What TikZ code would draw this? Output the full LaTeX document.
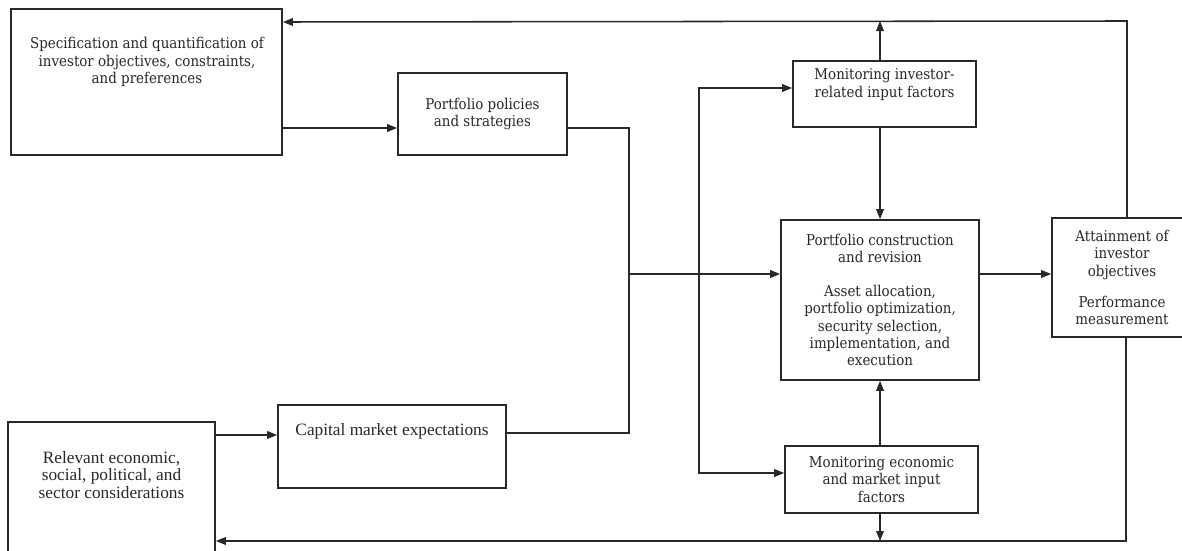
\documentclass[tikz,border=0pt]{standalone}
\usepackage{fontspec}
\setmainfont{DejaVu Serif Condensed}
\newfontfamily\timesfont{Liberation Serif}
\usepackage{xcolor}
\definecolor{inkgray}{RGB}{40,40,40}
\usetikzlibrary{arrows.meta, positioning, calc}

\begin{document}
\begin{tikzpicture}[
    x=0.025cm, y=-0.025cm,
    every node/.style={font=\fontsize{10.6}{12.2}\selectfont, text=inkgray},
    box/.style={rectangle, draw=inkgray, line width=1.1pt, fill=white,
                inner sep=0pt, align=center},
    txt/.style={align=center, inner sep=0pt},
    tms/.style={txt, font=\timesfont\fontsize{12.3}{12.3}\selectfont},
    line/.style={draw=inkgray, line width=1.1pt},
    arr/.style={line, -{Triangle[length=2.5mm, width=1.9mm]}},
]

\clip (0,0) rectangle (1182,551);

% ---- Left column ----
\node[box, minimum width=6.775cm, minimum height=3.65cm] (spec) at (146.5,82) {};
\node[txt] (specT) at (147,62)
      {Specification and quantification of\\investor objectives, constraints,\\and preferences};

\node[box, minimum width=5.175cm, minimum height=3.45cm] (rel) at (111.5,491) {};
\node[tms] (relT) at (111.5,475)
      {Relevant economic,\\social, political, and\\sector considerations};

% ---- Second column ----
\node[box, minimum width=4.225cm, minimum height=2.05cm] (pol) at (482.5,114)
      {Portfolio policies\\and strategies};

\node[box, minimum width=5.7cm, minimum height=2.075cm] (cap) at (392,446.5) {};
\node[tms] (capT) at (392,431) {Capital market expectations};

% ---- Monitoring and construction ----
\node[box, minimum width=4.575cm, minimum height=1.65cm] (monI) at (884.5,94) {};
\node[txt] (monIT) at (884.5,84.5) {Monitoring investor-\\related input factors};

\node[box, minimum width=4.95cm, minimum height=4cm] (cons) at (880,300)
      {Portfolio construction\\and revision\\[12pt]Asset allocation,\\portfolio optimization,\\security selection,\\implementation, and\\execution};

\node[box, minimum width=4.825cm, minimum height=1.675cm] (monE) at (881.5,479.5)
      {Monitoring economic\\and market input\\factors};

% ---- Attainment ----
\node[box, minimum width=3.5cm, minimum height=2.975cm] (att) at (1122,277.5)
      {Attainment of\\investor\\objectives\\[10pt]Performance\\measurement};

% ---- Feed-forward connectors ----
\coordinate (jn)  at (629,274);
\coordinate (bus) at (699,274);
\coordinate (topR) at (1127,21);
\coordinate (botR) at (1126,541);

\draw[arr] (spec.east |- 0,128) -- (pol.west |- 0,128);
\draw[arr] (rel.east |- 0,435) -- (cap.west |- 0,435);
\draw[line] (pol.east |- 0,128) -| (jn);
\draw[line] (cap.east |- 0,433) -| (jn);
\draw[arr] (jn) -- (cons.west |- jn);
\draw[arr] (bus) |- (monI.west |- 0,88);
\draw[arr] (bus) |- (monE.west |- 0,473);
\draw[arr] (monI.south -| cons.north) -- (cons.north);
\draw[arr] (monE.north -| cons.south) -- (cons.south);
\draw[arr] (cons.east |- 0,274) -- (att.west |- 0,274);

% ---- Feedback loops ----
\draw[arr] (att.north -| topR) -- (topR) -- (spec.east |- 0,22);
\draw[arr] (monI.north -| cons.north) -- (cons.north |- topR);
\draw[arr] (att.south -| botR) -- (botR) -- (rel.east |- botR);
\draw[arr] (monE.south -| cons.south) -- (cons.south |- botR);

\end{tikzpicture}
\end{document}
